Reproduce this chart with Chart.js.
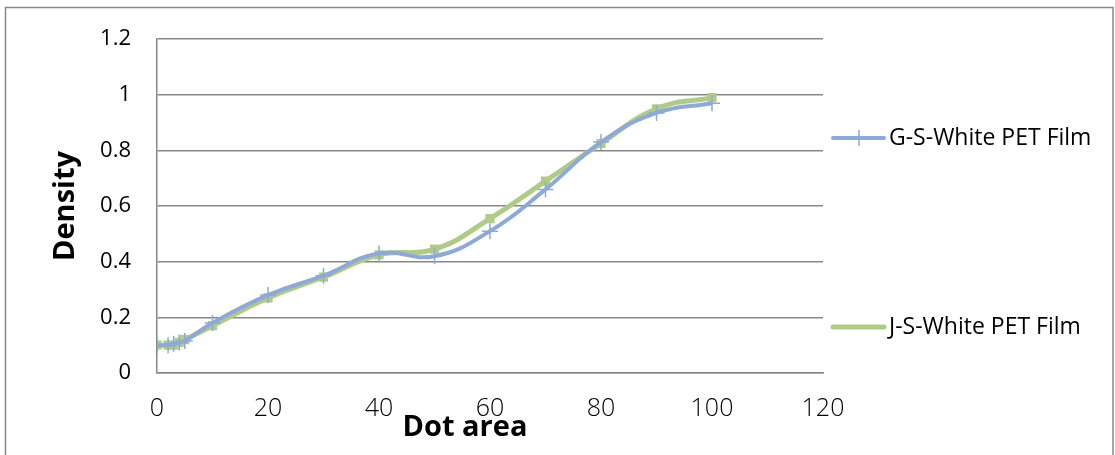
<!DOCTYPE html>
<html><head><meta charset="utf-8">
<script src="https://cdn.jsdelivr.net/npm/chart.js@4.4.1/dist/chart.umd.min.js"></script>
<style>html,body{margin:0;padding:0;background:#fff}#wrap{position:relative;width:1115px;height:455px}</style>
</head><body><div id="wrap"><canvas id="c" width="1115" height="455"></canvas></div>
<script>
// Dot area (%) vs. measured density for two white PET film samples
const dotArea = [0, 2, 3, 4, 5, 10, 20, 30, 40, 50, 60, 70, 80, 90, 100];
const gsWhitePet = [0.10, 0.10, 0.105, 0.11, 0.115, 0.18, 0.28, 0.35, 0.43, 0.42, 0.51, 0.66, 0.83, 0.935, 0.97];
const jsWhitePet = [0.10, 0.10, 0.10, 0.11, 0.12, 0.17, 0.27, 0.345, 0.425, 0.445, 0.555, 0.69, 0.825, 0.95, 0.99];
const seriesNames = ['G-S-White PET Film', 'J-S-White PET Film'];
const xTicks = [0, 20, 40, 60, 80, 100, 120];
const yTicks = [0, 0.2, 0.4, 0.6, 0.8, 1, 1.2];
const xTitle = 'Dot area';
const yTitle = 'Density';

const BLUE = '#8EA9D7';
const GREEN = '#B0CB88';
const GRID = '#878787';
const FONT = '"Open Sans", "Noto Sans", sans-serif';

const toPoints = ys => dotArea.map((x, i) => ({ x, y: ys[i] }));

// frame around the whole chart, axis titles and the side legend
const decorations = {
  id: 'decorations',
  beforeDraw(chart) {
    const ctx = chart.ctx;
    ctx.save();
    ctx.fillStyle = '#fff';
    ctx.fillRect(0, 0, chart.width, chart.height);
    ctx.strokeStyle = GRID;
    ctx.lineWidth = 1.5;
    ctx.strokeRect(5.5, 7.5, 1107.5, 460);
    ctx.restore();
  },
  afterDraw(chart) {
    const ctx = chart.ctx;
    ctx.save();
    ctx.fillStyle = '#000';
    ctx.font = 'bold 29px ' + FONT;
    ctx.textAlign = 'center';
    ctx.textBaseline = 'middle';
    ctx.fillText(xTitle, 465, 428);
    ctx.translate(66, 206);
    ctx.rotate(-Math.PI / 2);
    ctx.fillText(yTitle, 0, 0);
    ctx.restore();

    const rows = [138, 327];
    chart.data.datasets.forEach((ds, i) => {
      const y = rows[i];
      ctx.save();
      ctx.strokeStyle = ds.borderColor;
      ctx.lineWidth = ds.borderWidth;
      ctx.lineCap = 'round';
      ctx.beginPath();
      ctx.moveTo(833, y);
      ctx.lineTo(884, y);
      ctx.stroke();
      if (ds.pointStyle === 'cross') {
        ctx.lineWidth = 1.5;
        ctx.lineCap = 'butt';
        ctx.beginPath();
        ctx.moveTo(859, y - 8);
        ctx.lineTo(859, y + 8);
        ctx.stroke();
      }
      ctx.fillStyle = '#000';
      ctx.font = '23px ' + FONT;
      ctx.textAlign = 'left';
      ctx.textBaseline = 'middle';
      ctx.fillText(ds.label, 889, y);
      ctx.restore();
    });
  }
};

new Chart(document.getElementById('c'), {
  type: 'line',
  data: {
    datasets: [
      {
        label: seriesNames[0],
        data: toPoints(gsWhitePet),
        borderColor: BLUE,
        backgroundColor: BLUE,
        borderWidth: 4,
        tension: 0.45,
        pointStyle: 'cross',
        pointRadius: 8,
        pointBorderWidth: 1.5,
        pointBorderColor: BLUE
      },
      {
        label: seriesNames[1],
        data: toPoints(jsWhitePet),
        borderColor: GREEN,
        backgroundColor: GREEN,
        borderWidth: 5,
        tension: 0.45,
        pointStyle: 'rect',
        pointRadius: 6.5,
        pointBorderWidth: 0,
        pointBackgroundColor: GREEN
      }
    ]
  },
  options: {
    responsive: false,
    animation: false,
    devicePixelRatio: 1,
    layout: { padding: { left: 0, top: 37, right: 292, bottom: 0 } },
    plugins: { legend: { display: false }, tooltip: { enabled: false } },
    scales: {
      x: {
        type: 'linear',
        min: 0, max: 120,
        afterFit(s) { s.height = 82; },
        afterBuildTicks(s) { s.ticks = xTicks.map(v => ({ value: v })); },
        grid: { display: false, drawTicks: false, tickLength: 0 },
        border: { display: true, color: GRID, width: 1.5 },
        ticks: { color: '#000', padding: 21, maxRotation: 0, font: { family: FONT, size: 25, weight: '300' }, callback: v => String(v) }
      },
      y: {
        min: 0, max: 1.2,
        afterFit(s) { s.width = 157; },
        afterBuildTicks(s) { s.ticks = yTicks.map(v => ({ value: v })); },
        grid: { color: GRID, lineWidth: 1.5, drawTicks: false, tickLength: 0 },
        border: { display: true, color: GRID, width: 1.5 },
        ticks: { color: '#000', padding: 26, font: { family: FONT, size: 22, weight: '400' }, callback: v => String(v) }
      }
    }
  },
  plugins: [decorations]
});
</script></body></html>
